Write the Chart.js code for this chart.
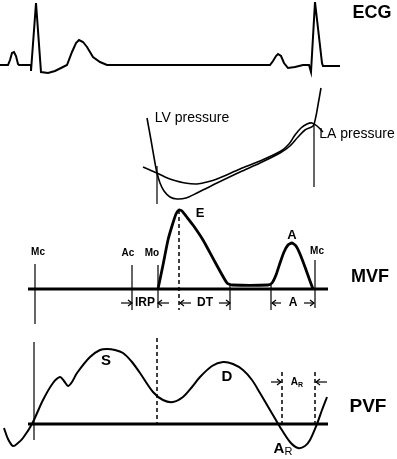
<!DOCTYPE html>
<html>
<head>
<meta charset="utf-8">
<script src="https://cdn.jsdelivr.net/npm/chart.js@4"></script>
<style>
html,body{margin:0;padding:0;background:#fff}
canvas{display:block}
</style>
</head>
<body>
<canvas id="c" width="397" height="459"></canvas>
<script>
// traces, in picture units (x right, y down)
var ecgTrace = [[0,65],[8,65],[10,60],[12,53],[14,52],[16,56],[18,64],[19,65],[31,65],[31,71],[36,3],[41,72],[48,73],[55,71],[63,67],[67,65],[72,52],[76,43],[79,40],[83,42],[87,47],[93,57],[100,62],[107,65],
    [270,65],[273,61],[276,56],[278,54],[281,56],[284,63],[288,68],[295,67],[303,65],[309,65],[311,72],[315,2],[322,63],[323,66],[340,66]]
var lvPressure = [[147,118],[151,140],[155,163],[157,173],[160,183],[164,191],[170,197],[177,199],[186,198],[197,193],[207,188],[217,183],[240,172],[260,163],[280,153],[290,146],[298,137],[305,130],[313,126],[316,116],[318,105],[321,88]]
var laPressure = [[143,167],[150,170],[157,173],[165,177],[173,180],[185,183],[197,184],[207,182],[217,179],[240,169],[260,161],[281,151],[289,144],[295,135],[301,128],[307,124],[312,123],[317,126],[323,132]]
var mvfTrace = [[158,289],[163,265],[168,240],[172,226],[176,214],[179,210],[182,211],[186,216],[193,225],[203,240],[215,262],[227,283],[232,285],[268,285],[272,283],[276,275],[280,263],[284,252],[288,245],[292,243],[296,246],[300,254],[305,267],[310,281],[313,289]]
var pvfTrace = [[4,428],[8,439],[13,446],[18,443],[23,438],[32,424],[43,400],[53,383],[60,377],[64,381],[68,386],[72,382],[77,373],[90,357],[100,350],[107,349],[115,350],[123,353],[132,362],[140,373],[153,392],[163,400],[173,402],[183,397],[192,387],[200,377],[212,366],[223,362],[233,364],[243,370],[252,380],[260,393],[270,410],[280,427],[290,442],[298,448],[305,446],[310,440],[317,424],[322,410],[327,397]]

// baselines and marker lines: [x1, y1, x2, y2]
var baseLines = [[28,289,328,289],[28,424,328,424]]
var markerLines = [[157,166,157,204],[314,123,314,187],[35,264,35,324],[132,265,132,310],[158,265,158,308],[315,260,315,308],[230,285,230,310],[271,284,271,310],[34,342,34,440]]
var dashedLines = [[179,210,179,310],[157,338,157,424],[282,372,282,424],[315,372,315,424]]
// interval arrows: [from, to, y] (head at "to")
var arrows = [[121,132,303],[169,158,303],[191,180,303],[219,230,303],[281,272,303],[304,314,303],[271,281,382],[327,316,382]]

var labels = [
    {t:'ECG', x:372, y:13, f:'bold 18px Arial'},
    {t:'LV pressure', x:192, y:118, f:'14px Arial'},
    {t:'LA pressure', x:357, y:134, f:'14px Arial'},
    {t:'E', x:200, y:213, f:'bold 13px Arial'},
    {t:'A', x:292, y:235, f:'bold 13px Arial'},
    {t:'Mc', x:38, y:252, f:'bold 10px Arial'},
    {t:'Ac', x:128, y:253, f:'bold 10px Arial'},
    {t:'Mo', x:152, y:253, f:'bold 10px Arial'},
    {t:'Mc', x:317, y:251, f:'bold 10px Arial'},
    {t:'MVF', x:370, y:277, f:'bold 18px Arial'},
    {t:'IRP', x:145, y:303, f:'bold 12px Arial'},
    {t:'DT', x:205, y:303, f:'bold 12px Arial'},
    {t:'A', x:293, y:303, f:'bold 12px Arial'},
    {t:'S', x:106, y:361, f:'bold 15px Arial'},
    {t:'D', x:227, y:377, f:'bold 15px Arial'},
    {t:'A', sub:'R', x:297, y:382, f:'bold 10px Arial', sf:'bold 7px Arial'},
    {t:'PVF', x:368, y:407, f:'bold 19px Arial'},
    {t:'A', sub:'R', x:283, y:449, f:'bold 15px Arial', sf:'11px Arial'}
]

function line(pts, w, dash, tension) {
    return {
        data: pts.map(p => ({x: p[0], y: p[1]})),
        showLine: true, borderColor: '#000', borderWidth: w,
        borderDash: dash || [], pointRadius: 0, tension: tension || 0, fill: false
    }
}

var datasets = []
datasets.push(line(ecgTrace, 2))
datasets.push(line(lvPressure, 1.6, null, 0.3))
datasets.push(line(laPressure, 1.6, null, 0.3))
datasets.push(line(mvfTrace, 2.8, null, 0.2))
datasets.push(line(pvfTrace, 2, null, 0.3))
baseLines.forEach(l => datasets.push(line([[l[0],l[1]],[l[2],l[3]]], 3)))
markerLines.forEach(l => datasets.push(line([[l[0],l[1]],[l[2],l[3]]], 1.2)))
dashedLines.forEach(l => datasets.push(line([[l[0],l[1]],[l[2],l[3]]], 1.5, [4,3])))
arrows.forEach(a => {
    var d = a[1] > a[0] ? 1 : -1
    datasets.push(line([[a[0],a[2]],[a[1],a[2]]], 1.2))
    datasets.push(line([[a[1]-d*4,a[2]-3],[a[1],a[2]],[a[1]-d*4,a[2]+3]], 1.2))
})

var textPlugin = {
    id: 'texts',
    afterDatasetsDraw(chart) {
        var ctx = chart.ctx, sx = chart.scales.x, sy = chart.scales.y
        ctx.save()
        ctx.fillStyle = '#000'
        ctx.textBaseline = 'middle'
        labels.forEach(l => {
            var px = sx.getPixelForValue(l.x), py = sy.getPixelForValue(l.y)
            ctx.font = l.f
            if (l.sub) {
                var w1 = ctx.measureText(l.t).width
                ctx.font = l.sf
                var w2 = ctx.measureText(l.sub).width
                var left = px - (w1 + w2) / 2
                ctx.textAlign = 'left'
                ctx.font = l.f
                ctx.fillText(l.t, left, py)
                ctx.font = l.sf
                ctx.fillText(l.sub, left + w1, py + 3)
            } else {
                ctx.textAlign = 'center'
                ctx.fillText(l.t, px, py)
            }
        })
        ctx.restore()
    }
}

var chart = new Chart(document.getElementById('c').getContext('2d'), {
    type: 'scatter',
    data: {datasets: datasets},
    options: {
        responsive: false,
        animation: false,
        layout: {padding: 0},
        plugins: {legend: {display: false}, tooltip: {enabled: false}},
        scales: {
            x: {type: 'linear', min: 0, max: 397, display: false},
            y: {type: 'linear', min: 0, max: 459, reverse: true, display: false}
        }
    },
    plugins: [textPlugin]
})
</script>
</body>
</html>
